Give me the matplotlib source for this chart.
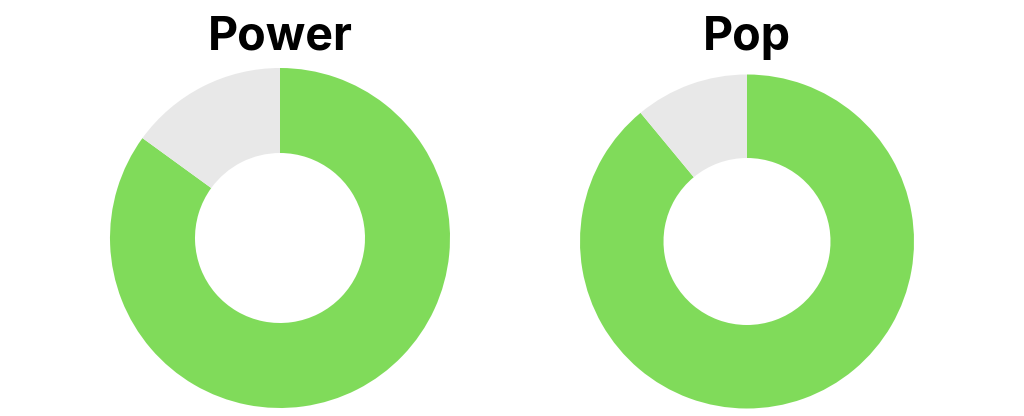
import matplotlib.pyplot as plt

titles = ["Power", "Pop"]
filled = [85, 89]
rest = [15, 11]

# pixel geometry of each donut: centre x, centre y (from top), outer radius
centers_x = [280, 747]
centers_y = [238, 241.5]
radii = [170, 167]
title_x = [280.5, 747]

green = '#80DB5A'
grey = '#E8E8E8'

W, H = 1024, 416
fig = plt.figure(figsize=(W / 100, H / 100), dpi=100)

for i in range(len(titles)):
    cx, cy, r = centers_x[i], centers_y[i], radii[i]
    ax = fig.add_axes([(cx - r) / W, (H - cy - r) / H, 2 * r / W, 2 * r / H])
    ax.pie([filled[i], rest[i]], colors=[green, grey], startangle=90,
           counterclock=False, radius=1,
           wedgeprops=dict(width=0.5, edgecolor='none', linewidth=0))
    ax.set_xlim(-1, 1)
    ax.set_ylim(-1, 1)
    ax.set_aspect('equal')
    ax.axis('off')
    fig.text(title_x[i] / W, (H - 50) / H, titles[i], ha='center', va='baseline',
             fontsize=33.5, fontweight='bold', family='Inter', color='#000000')

plt.savefig('out.png', dpi=100)
